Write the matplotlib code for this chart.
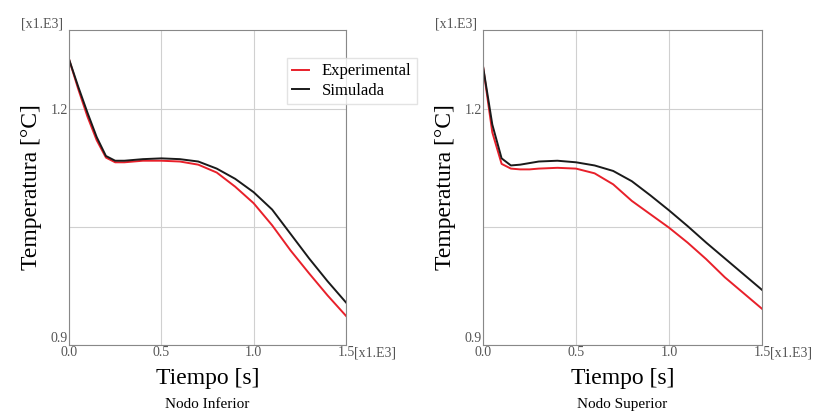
import numpy as np
import matplotlib
matplotlib.use('Agg')
import matplotlib.pyplot as plt

plt.rcParams['font.family'] = ['Liberation Serif', 'DejaVu Serif']

# tiempo en x1E3 s, temperatura en x1E3 grados
t = [0.0, 0.05, 0.1, 0.15, 0.2, 0.25, 0.3, 0.4, 0.5, 0.6, 0.7, 0.8, 0.9, 1.0, 1.1, 1.2, 1.3, 1.4, 1.5]

inf_exp = [1.263, 1.225, 1.190, 1.160, 1.138, 1.132, 1.132, 1.134, 1.134, 1.133, 1.129, 1.119, 1.101, 1.080, 1.052, 1.020, 0.991, 0.963, 0.937]
inf_sim = [1.263, 1.228, 1.195, 1.164, 1.140, 1.134, 1.134, 1.136, 1.137, 1.136, 1.133, 1.124, 1.111, 1.094, 1.072, 1.041, 1.010, 0.981, 0.954]

sup_exp = [1.254, 1.170, 1.130, 1.124, 1.123, 1.123, 1.124, 1.125, 1.124, 1.118, 1.104, 1.083, 1.066, 1.049, 1.030, 1.009, 0.986, 0.966, 0.946]
sup_sim = [1.254, 1.180, 1.137, 1.128, 1.129, 1.131, 1.133, 1.134, 1.132, 1.128, 1.121, 1.108, 1.090, 1.071, 1.051, 1.030, 1.010, 0.990, 0.970]

xticks = [0.0, 0.5, 1.0, 1.5]
yticks = [0.9, 1.05, 1.2]
ylabels = ['0.9', '', '1.2']

fig = plt.figure(figsize=(8.29, 4.17), dpi=100)
ax1 = fig.add_axes([69/829, 72/417, 277/829, 315/417])
ax2 = fig.add_axes([483/829, 72/417, 279/829, 315/417])

for ax, exp, sim, name in [(ax1, inf_exp, inf_sim, 'Nodo Inferior'),
                           (ax2, sup_exp, sup_sim, 'Nodo Superior')]:
    ax.plot(t, exp, color='#e8202a', lw=1.4, label='Experimental')
    ax.plot(t, sim, color='#1a1a1a', lw=1.4, label='Simulada')
    ax.set_xlim(0, 1.5)
    ax.set_ylim(0.9, 1.3)
    ax.set_xticks(xticks)
    ax.set_xticklabels(['0.0', '0.5', '1.0', '1.5'])
    ax.set_yticks(yticks)
    ax.set_yticklabels(ylabels)
    ax.grid(True, color='#d0d0d0', lw=0.8)
    for s in ax.spines.values():
        s.set_color('#888888')
    ax.tick_params(length=0, labelsize=10, colors='#555555', pad=1)
    # el 0.9 queda un poco por encima del 0.0
    ax.get_yticklabels()[0].set_va('bottom')
    ax.set_xlabel('Tiempo [s]', fontsize=17, labelpad=6)
    ax.set_ylabel('Temperatura [°C]', fontsize=17, labelpad=6)
    ax.text(-0.02, 1.0, '[x1.E3]', transform=ax.transAxes, ha='right', va='bottom',
            fontsize=10, color='#555555')
    ax.text(1.03, -0.005, '[x1.E3]', transform=ax.transAxes, ha='left', va='top',
            fontsize=10, color='#555555')
    ax.text(0.5, -0.19, name, transform=ax.transAxes, ha='center', va='center', fontsize=11)

ax1.legend(loc='upper left', bbox_to_anchor=(0.787, 0.91), fontsize=12, frameon=True,
           fancybox=False, edgecolor='#dddddd', handlelength=1.0, borderpad=0.3,
           labelspacing=0.2, borderaxespad=0)

fig.savefig('out.png', dpi=100)
